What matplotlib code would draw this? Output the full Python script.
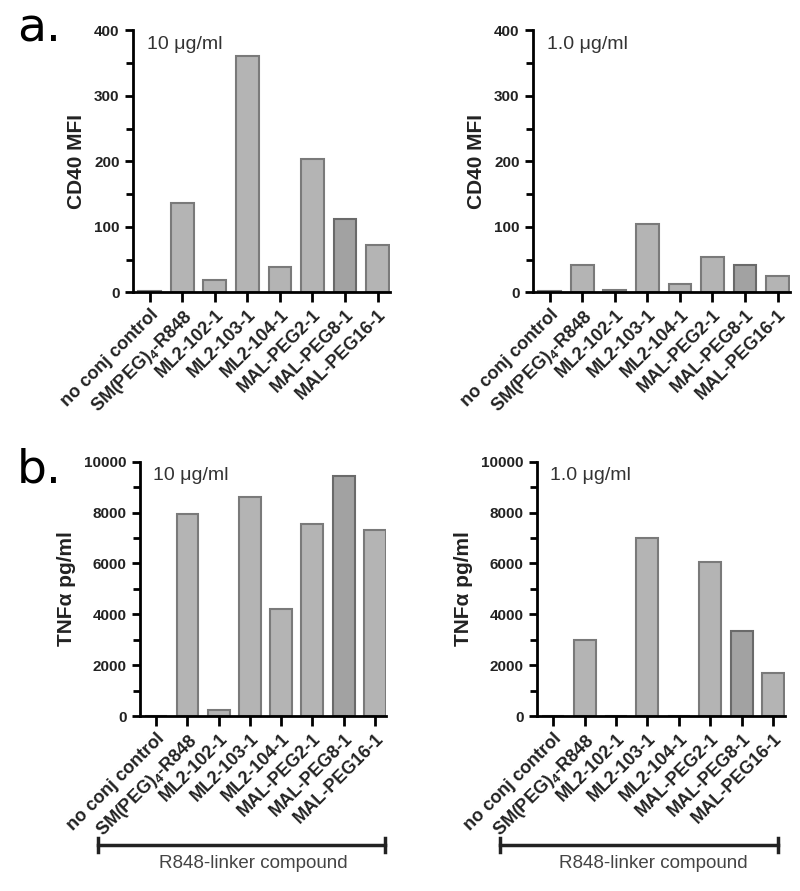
import numpy as np
import matplotlib.pyplot as plt
from matplotlib.lines import Line2D

plt.rcParams['font.family'] = ['Liberation Sans', 'DejaVu Sans']
plt.rcParams['mathtext.fontset'] = 'custom'
plt.rcParams['mathtext.rm'] = 'Liberation Sans'
plt.rcParams['mathtext.bf'] = 'Liberation Sans:bold'

compounds = ['no conj control', r'SM(PEG)$_\mathbf{4}$-R848', 'ML2-102-1', 'ML2-103-1',
             'ML2-104-1', 'MAL-PEG2-1', 'MAL-PEG8-1', 'MAL-PEG16-1']

cd40_10 = [2, 137, 19, 360, 38, 203, 112, 72]
cd40_1 = [2, 42, 4, 104, 12, 54, 41, 25]
tnf_10 = [0, 7950, 250, 8600, 4200, 7530, 9420, 7300]
tnf_1 = [0, 3000, 0, 7000, 0, 6060, 3350, 1720]

fill = ['#b4b4b4'] * 6 + ['#a2a2a2', '#b4b4b4']
edge = ['#7a7a7a'] * 6 + ['#6a6a6a', '#7a7a7a']

fig = plt.figure(figsize=(8, 8.91), dpi=100)


def panel(rect, vals, ymax, major, ylabel, conc):
    ax = fig.add_axes(rect)
    x = np.arange(len(vals))
    ax.bar(x, vals, width=0.7, color=fill, edgecolor=edge, linewidth=1.5)
    ax.set_xlim(-0.52, 7.37)
    ax.set_ylim(0, ymax)
    ax.set_yticks(np.arange(0, ymax + 1, major))
    ax.set_yticks(np.arange(major / 2, ymax, major), minor=True)
    ax.set_xticks(x)
    ax.set_xticklabels(compounds, rotation=45, ha='right', rotation_mode='anchor',
                       fontsize=13, fontweight='bold', color='#222222')
    for lbl in ax.get_yticklabels():
        lbl.set_fontweight('bold')
        lbl.set_fontsize(11)
        lbl.set_color('#222222')
    for s in ['top', 'right']:
        ax.spines[s].set_visible(False)
    for s in ['left', 'bottom']:
        ax.spines[s].set_linewidth(2)
    ax.tick_params(which='both', direction='out', width=2)
    ax.tick_params(which='major', length=6)
    ax.tick_params(which='minor', length=5)
    ax.tick_params(axis='x', length=7, pad=3)
    ax.set_ylabel(ylabel, fontsize=15, fontweight='bold', color='#222222', labelpad=6)
    ax.text(0.054, 0.945, conc, transform=ax.transAxes, fontsize=14,
            color='#333333', va='center', ha='left')
    return ax


panel([0.166, 0.672, 0.321, 0.294], cd40_10, 400, 100, 'CD40 MFI', '10 μg/ml')
panel([0.666, 0.672, 0.321, 0.294], cd40_1, 400, 100, 'CD40 MFI', '1.0 μg/ml')
panel([0.175, 0.196, 0.308, 0.286], tnf_10, 10000, 2000, 'TNFα pg/ml', '10 μg/ml')
panel([0.671, 0.196, 0.310, 0.286], tnf_1, 10000, 2000, 'TNFα pg/ml', '1.0 μg/ml')

fig.text(0.021, 0.953, 'a.', fontsize=34, family='DejaVu Sans', va='baseline')
fig.text(0.021, 0.459, 'b.', fontsize=34, family='DejaVu Sans', va='baseline')

# brackets under the lower panels
for x0, x1, xt in [(98, 385, 253), (500, 778, 653)]:
    yb = 1 - 845 / 891
    cap = 7 / 891
    fig.add_artist(Line2D([x0 / 800, x1 / 800], [yb, yb], color='#222222', lw=2.5))
    for xc in (x0, x1):
        fig.add_artist(Line2D([xc / 800, xc / 800], [yb - cap, yb + cap],
                              color='#222222', lw=2.5))
    fig.text(xt / 800, 1 - 863 / 891, 'R848-linker compound', fontsize=13.5,
             color='#444444', ha='center', va='center')

plt.savefig('out.png', dpi=100)
